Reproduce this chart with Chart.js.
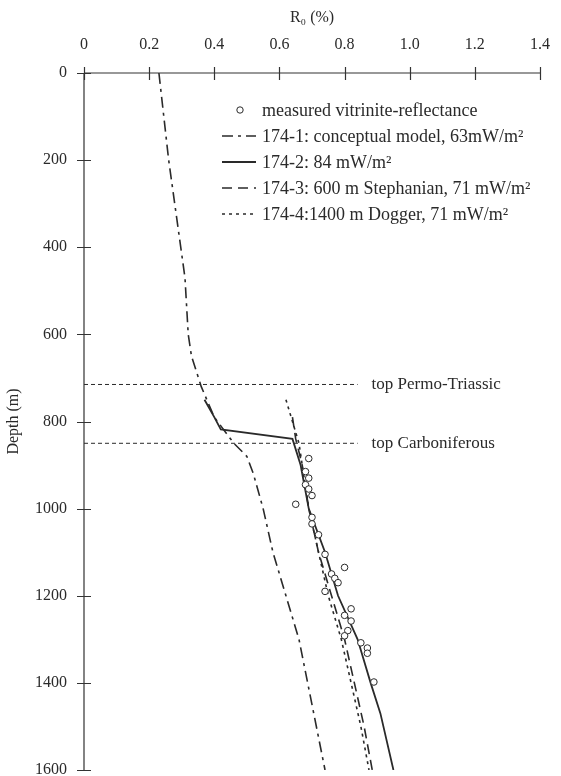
<!DOCTYPE html>
<html>
<head>
<meta charset="utf-8">
<script src="https://cdn.jsdelivr.net/npm/chart.js@4/dist/chart.umd.min.js"></script>
<style>
  html, body { margin: 0; padding: 0; background: #fff; }
  #wrap { width: 561px; height: 776px; }
</style>
</head>
<body>
<div id="wrap"><canvas id="chart" width="561" height="776"></canvas></div>
<script>
// Measured vitrinite reflectance: depth (m) and Ro (%)
var measuredDepth = [885, 915, 930, 945, 955, 970, 990, 1020, 1035, 1060, 1105, 1135, 1150, 1160, 1170, 1190, 1230, 1245, 1258, 1280, 1292, 1308, 1320, 1332, 1398];
var measuredRo    = [0.69, 0.68, 0.69, 0.68, 0.69, 0.70, 0.65, 0.70, 0.70, 0.72, 0.74, 0.80, 0.76, 0.77, 0.78, 0.74, 0.82, 0.80, 0.82, 0.81, 0.80, 0.85, 0.87, 0.87, 0.89];

// 174-1: conceptual model
var model1Depth = [0, 200, 470, 600, 650, 720, 790, 850, 880, 920, 1000, 1100, 1200, 1300, 1450, 1600];
var model1Ro    = [0.23, 0.26, 0.31, 0.32, 0.33, 0.36, 0.40, 0.46, 0.50, 0.52, 0.55, 0.58, 0.62, 0.66, 0.70, 0.74];

// 174-2: 84 mW/m2
var model2Depth = [750, 790, 818, 840, 900, 1000, 1100, 1200, 1300, 1400, 1470, 1600];
var model2Ro    = [0.37, 0.40, 0.42, 0.64, 0.665, 0.69, 0.74, 0.78, 0.84, 0.88, 0.91, 0.95];

// 174-3: 600 m Stephanian
var model3Depth = [790, 840, 900, 1000, 1100, 1200, 1300, 1400, 1500, 1600];
var model3Ro    = [0.64, 0.65, 0.67, 0.69, 0.72, 0.76, 0.80, 0.83, 0.86, 0.885];

// 174-4: 1400 m Dogger
var model4Depth = [750, 800, 850, 900, 1000, 1100, 1200, 1300, 1400, 1500, 1600];
var model4Ro    = [0.62, 0.64, 0.66, 0.67, 0.69, 0.72, 0.75, 0.79, 0.82, 0.85, 0.875];

// stratigraphic markers
var markerNames = ['top Permo-Triassic', 'top Carboniferous'];
var markerDepth = [715, 850];
var markerEnd   = 0.84;

var xTicks = [0, 0.2, 0.4, 0.6, 0.8, 1, 1.2, 1.4];
var yTicks = [0, 200, 400, 600, 800, 1000, 1200, 1400, 1600];

var legendLabels = [
    'measured vitrinite-reflectance',
    '174-1: conceptual model, 63mW/m\u00b2',
    '174-2: 84 mW/m\u00b2',
    '174-3: 600 m Stephanian, 71 mW/m\u00b2',
    '174-4:1400 m Dogger, 71 mW/m\u00b2'
];

var FONT = '"Liberation Serif", "Times New Roman", serif';
var INK = '#2a2a2a';

function pairs(xs, ys) {
    return xs.map(function(v, i) { return { x: v, y: ys[i] }; });
}

function lineSet(label, xs, ys, dash, width) {
    return {
        label: label,
        data: pairs(xs, ys),
        showLine: true,
        borderColor: INK,
        borderWidth: width,
        borderDash: dash,
        pointRadius: 0,
        fill: false,
        tension: 0
    };
}

var datasets = [
    {
        label: legendLabels[0],
        data: pairs(measuredRo, measuredDepth),
        showLine: false,
        pointRadius: 3.3,
        pointBorderWidth: 1,
        pointBorderColor: INK,
        pointBackgroundColor: '#fff'
    },
    lineSet(legendLabels[1], model1Ro, model1Depth, [11, 5, 3, 5], 1.6),
    lineSet(legendLabels[2], model2Ro, model2Depth, [], 1.8),
    lineSet(legendLabels[3], model3Ro, model3Depth, [10, 6], 1.6),
    lineSet(legendLabels[4], model4Ro, model4Depth, [3, 4], 1.6)
];

// horizontal marker lines
markerDepth.forEach(function(d, i) {
    datasets.push({
        label: markerNames[i],
        data: [{ x: 0, y: d }, { x: markerEnd, y: d }],
        showLine: true,
        borderColor: INK,
        borderWidth: 1,
        borderDash: [4, 3],
        pointRadius: 0,
        isMarker: true
    });
});

// axis lines with ticks crossing them, plus marker labels and legend
var decorations = {
    id: 'decorations',
    afterDatasetsDraw: function(chart) {
        var ctx = chart.ctx;
        var area = chart.chartArea;
        var xs = chart.scales.x, ys = chart.scales.y;
        ctx.save();
        ctx.strokeStyle = '#333';
        ctx.lineWidth = 1.2;
        ctx.setLineDash([]);
        ctx.beginPath();
        ctx.moveTo(area.left, area.top);
        ctx.lineTo(area.right, area.top);
        ctx.moveTo(area.left, area.top);
        ctx.lineTo(area.left, area.bottom);
        xTicks.forEach(function(t) {
            var px = Math.round(xs.getPixelForValue(t)) + 0.5;
            ctx.moveTo(px, area.top - 6);
            ctx.lineTo(px, area.top + 7);
        });
        yTicks.forEach(function(t) {
            var py = Math.round(ys.getPixelForValue(t)) + 0.5;
            ctx.moveTo(area.left - 7, py);
            ctx.lineTo(area.left + 7, py);
        });
        ctx.stroke();

        // marker labels
        ctx.fillStyle = INK;
        ctx.font = '17px ' + FONT;
        ctx.textBaseline = 'middle';
        ctx.textAlign = 'left';
        markerDepth.forEach(function(d, i) {
            ctx.fillText(markerNames[i], xs.getPixelForValue(markerEnd) + 14, ys.getPixelForValue(d));
        });

        // legend
        ctx.font = '18px ' + FONT;
        var lx = 222, tx = 262, rows = [110, 136, 162, 188, 214];
        chart.data.datasets.forEach(function(ds, i) {
            if (ds.isMarker) return;
            var y = rows[i];
            ctx.strokeStyle = INK;
            if (ds.showLine === false) {
                ctx.beginPath();
                ctx.lineWidth = 1;
                ctx.fillStyle = '#fff';
                ctx.arc(240, y, 3.2, 0, Math.PI * 2);
                ctx.fill();
                ctx.stroke();
            } else {
                ctx.beginPath();
                ctx.lineWidth = ds.borderWidth;
                ctx.setLineDash(ds.borderDash || []);
                ctx.moveTo(lx, y);
                ctx.lineTo(lx + 34, y);
                ctx.stroke();
                ctx.setLineDash([]);
            }
            ctx.fillStyle = INK;
            ctx.fillText(ds.label, tx, y + 1);
        });
        ctx.restore();
    }
};

new Chart(document.getElementById('chart'), {
    type: 'scatter',
    data: { datasets: datasets },
    plugins: [decorations],
    options: {
        responsive: false,
        animation: false,
        layout: { padding: { left: 0, right: 21, top: 0, bottom: 6 } },
        plugins: {
            legend: { display: false },
            tooltip: { enabled: false }
        },
        scales: {
            x: {
                type: 'linear',
                position: 'top',
                min: 0,
                max: 1.4,
                afterBuildTicks: function(scale) {
                    scale.ticks = xTicks.map(function(v) { return { value: v }; });
                },
                afterFit: function(scale) {
                    scale.height = 73;
                    scale.paddingLeft = 0;
                    scale.paddingRight = 0;
                },
                grid: { display: false },
                border: { display: false },
                ticks: {
                    color: INK,
                    padding: 11,
                    font: { family: FONT, size: 16 }
                },
                title: {
                    display: true,
                    text: 'R\u2080 (%)',
                    color: INK,
                    padding: { top: 8, bottom: 2 },
                    font: { family: FONT, size: 16 }
                }
            },
            y: {
                type: 'linear',
                reverse: true,
                min: 0,
                max: 1600,
                afterBuildTicks: function(scale) {
                    scale.ticks = yTicks.map(function(v) { return { value: v }; });
                },
                afterFit: function(scale) {
                    scale.width = 84;
                    scale.paddingTop = 0;
                    scale.paddingBottom = 0;
                },
                grid: { display: false },
                border: { display: false },
                ticks: {
                    color: INK,
                    padding: 9,
                    font: { family: FONT, size: 16 },
                    callback: function(v) { return String(v); }
                },
                title: {
                    display: true,
                    text: 'Depth (m)',
                    color: INK,
                    padding: { top: 4, bottom: 2 },
                    font: { family: FONT, size: 16 }
                }
            }
        }
    }
});
</script>
</body>
</html>
